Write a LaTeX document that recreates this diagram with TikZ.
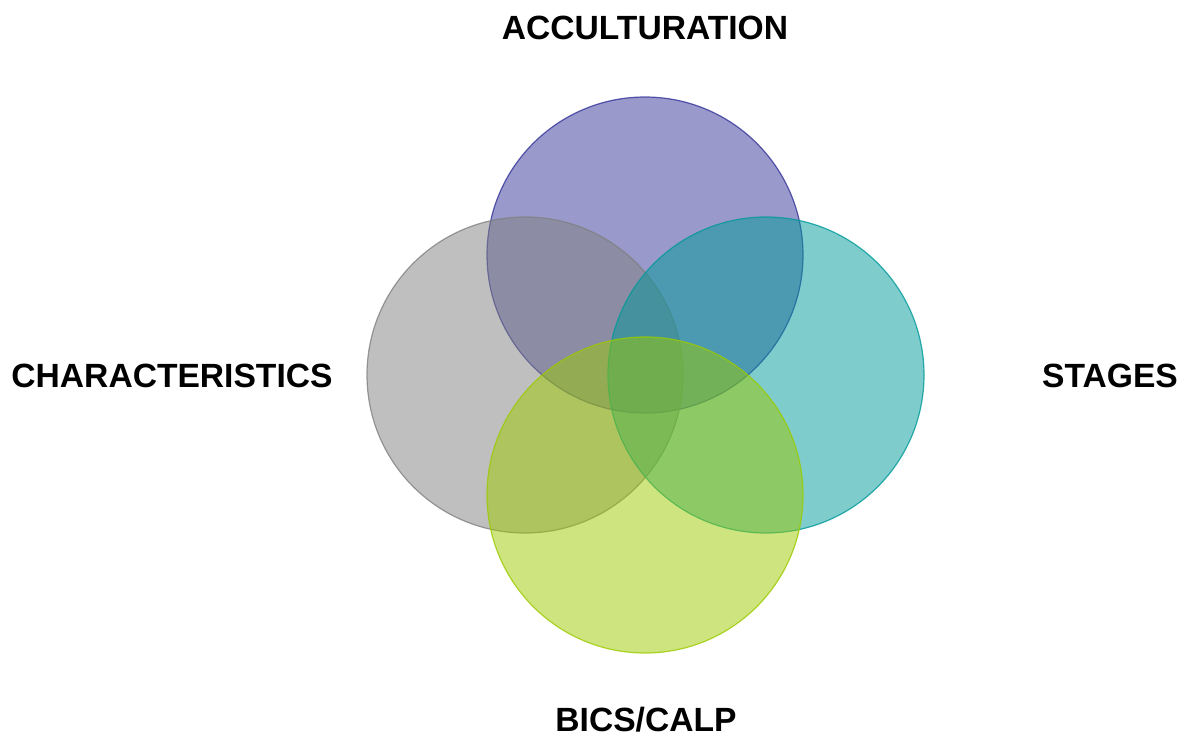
\documentclass[tikz,border=0pt]{standalone}
\usepackage{fontspec}
\setmainfont{Liberation Sans}
\begin{document}
\begin{tikzpicture}[x=1pt,y=-1pt,
  venn/.style={circle,minimum size=316pt,inner sep=0pt,fill opacity=0.5,line width=1.2pt},
  lbl/.style={font=\bfseries\fontsize{33.6}{38}\selectfont,inner sep=0pt,anchor=center}]
\definecolor{cpurple}{HTML}{333399}
\definecolor{cgray}{HTML}{808080}
\definecolor{cteal}{HTML}{009999}
\definecolor{clime}{HTML}{9BCA00}
\useasboundingbox (0,0) rectangle (1181,739);
\node[venn,fill=cpurple,draw=cpurple,draw opacity=0.8] (top) at (645,255) {};
\node[venn,fill=cgray,draw=cgray,draw opacity=0.8] (left) at (525,375) {};
\node[venn,fill=cteal,draw=cteal,draw opacity=0.8] (right) at (766,375) {};
\node[venn,fill=clime,draw=clime,draw opacity=0.8] (bottom) at (645,495) {};
\node[lbl] (tA) at (645,28) {ACCULTURATION};
\node[lbl] (tC) at (172,376) {CHARACTERISTICS};
\node[lbl] (tS) at (1110,376) {STAGES};
\node[lbl] (tB) at (646,720) {BICS/CALP};
\end{tikzpicture}
\end{document}
